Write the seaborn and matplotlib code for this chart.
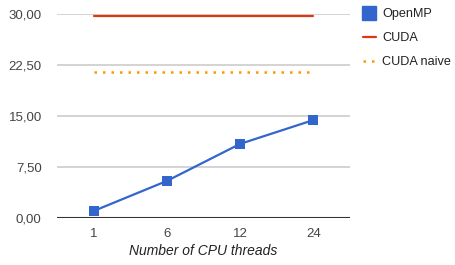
import matplotlib.pyplot as plt
import pandas as pd
import seaborn as sns
from matplotlib.lines import Line2D

threads = ["1", "6", "12", "24"]
openmp = [1.03, 5.45, 10.9, 14.4]
cuda = [29.7, 29.7, 29.7, 29.7]
cuda_naive = [21.4, 21.4, 21.4, 21.4]
yticks = [0, 7.5, 15, 22.5, 30]

blue, red, orange = "#3366cc", "#dc3912", "#ff9900"

df = pd.DataFrame({"x": range(len(threads)), "OpenMP": openmp,
                   "CUDA": cuda, "CUDA naive": cuda_naive})

sns.set_style("white")
plt.rcParams["font.family"] = ["Liberation Sans", "DejaVu Sans"]

fig = plt.figure(figsize=(4.55, 2.65), dpi=100)
ax = fig.add_axes([57 / 455, 47 / 265, 293 / 455, 204 / 265])

for y in yticks[1:]:
    ax.axhline(y, color="#cccccc", lw=1.2, zorder=0)
ax.axhline(0, color="#333333", lw=1.5, zorder=3)

sns.lineplot(data=df, x="x", y="CUDA naive", ax=ax, color=orange, lw=1.8,
             linestyle=(0, (1, 2.4)))
sns.lineplot(data=df, x="x", y="CUDA", ax=ax, color=red, lw=1.6)
sns.lineplot(data=df, x="x", y="OpenMP", ax=ax, color=blue, lw=1.6,
             marker="s", markersize=7, markeredgewidth=0, zorder=4)

ax.set_xlim(-0.5, len(threads) - 0.5)
ax.set_ylim(0, 30)
ax.set_xticks(range(len(threads)))
ax.set_xticklabels(threads)
ax.set_yticks(yticks)
ax.set_yticklabels([f"{v:.2f}".replace(".", ",") for v in yticks])
ax.tick_params(length=0, labelsize=9.5, colors="#444444", pad=7)
ax.tick_params(axis="y", pad=11)
ax.set_ylabel("")
ax.set_xlabel("Number of CPU threads", style="italic", fontsize=10, color="#222222", labelpad=3)
sns.despine(ax=ax, left=True, bottom=True, top=True, right=True)

handles = [
    Line2D([], [], color=blue, marker="s", markersize=10, lw=0),
    Line2D([], [], color=red, lw=1.6),
    Line2D([], [], color=orange, lw=1.8, linestyle=(0, (1, 2.4))),
]
leg = fig.legend(handles, ["OpenMP", "CUDA", "CUDA naive"], loc="upper left",
                 bbox_to_anchor=(358 / 455, 1 - 3 / 265), frameon=False, fontsize=9.1,
                 handlelength=1.0, handletextpad=0.5, labelspacing=0.95, borderaxespad=0)
for t in leg.get_texts():
    t.set_color("#222222")

fig.savefig("out.png", dpi=100)
